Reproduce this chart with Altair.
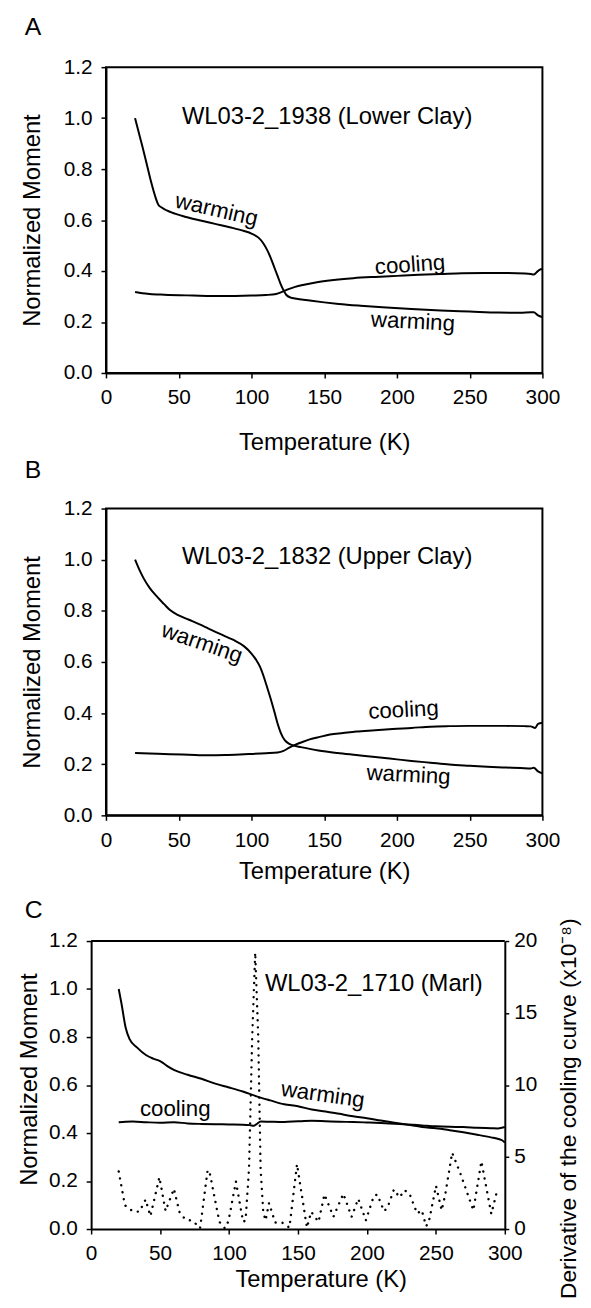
import altair as alt
import pandas as pd

FONT = "Liberation Sans"

# ---------------- data ----------------
X_TICKS = [0, 50, 100, 150, 200, 250, 300]
Y_TICKS = [0.0, 0.2, 0.4, 0.6, 0.8, 1.0, 1.2]
D_TICKS = [0, 5, 10, 15, 20]

# Panel A  (WL03-2_1938, Lower Clay)
A_warm_T = [20, 22, 25, 28, 31, 34, 36, 38, 45, 55, 65, 75, 85, 95, 100, 105, 108, 111, 113, 116,
            118, 120, 122, 124, 127, 130, 140, 150, 160, 175, 190, 210, 230, 250, 270, 285, 292, 294, 297, 300]
A_warm_M = [1.0, 0.955, 0.89, 0.82, 0.75, 0.69, 0.66, 0.65, 0.63, 0.612, 0.598, 0.585, 0.572, 0.557, 0.547, 0.53, 0.51, 0.48, 0.455, 0.41,
            0.38, 0.35, 0.325, 0.306, 0.296, 0.292, 0.284, 0.277, 0.271, 0.264, 0.258, 0.251, 0.245, 0.241, 0.237, 0.236, 0.238, 0.238, 0.226, 0.219]
A_cool_T = [20, 25, 30, 40, 60, 80, 100, 110, 117, 121, 125, 130, 137, 145, 155, 170, 185, 200, 215, 230,
            245, 260, 275, 288, 292, 294, 296, 298, 300]
A_cool_M = [0.318, 0.313, 0.31, 0.307, 0.304, 0.302, 0.304, 0.306, 0.31, 0.318, 0.328, 0.338, 0.347, 0.356, 0.364, 0.372, 0.377, 0.381, 0.385, 0.388,
            0.391, 0.392, 0.392, 0.39, 0.388, 0.386, 0.395, 0.405, 0.408]

# Panel B  (WL03-2_1832, Upper Clay)
B_warm_T = [20, 23, 26, 30, 34, 40, 44, 50, 57, 64, 70, 76, 82, 88, 95, 100, 103, 106, 108, 110,
            113, 116, 118, 120, 123, 126, 129, 134, 146, 159, 172, 185, 200, 210, 223, 236, 250, 262, 275, 285,
            292, 294, 297, 300]
B_warm_M = [1.0, 0.96, 0.926, 0.89, 0.862, 0.826, 0.803, 0.782, 0.765, 0.748, 0.732, 0.716, 0.70, 0.685, 0.661, 0.633, 0.61, 0.58, 0.55, 0.515,
            0.46, 0.40, 0.358, 0.325, 0.293, 0.28, 0.273, 0.267, 0.254, 0.244, 0.236, 0.228, 0.219, 0.213, 0.206, 0.199, 0.194, 0.19, 0.187, 0.185,
            0.183, 0.186, 0.172, 0.164]
B_cool_T = [20, 30, 44, 57, 70, 82, 95, 110, 118, 122, 126, 130, 135, 140, 147, 154, 163, 172, 185, 197,
            210, 223, 236, 249, 262, 275, 288, 292, 295, 297, 300]
B_cool_M = [0.244, 0.242, 0.239, 0.237, 0.235, 0.236, 0.239, 0.243, 0.246, 0.252, 0.265, 0.276, 0.287, 0.297, 0.307, 0.316, 0.322, 0.328, 0.333, 0.338,
            0.342, 0.347, 0.349, 0.35, 0.35, 0.35, 0.349, 0.348, 0.342, 0.358, 0.362]

# Panel C  (WL03-2_1710, Marl)
C_warm_T = [20, 22, 25, 28, 33, 40, 45, 50, 55, 60, 70, 80, 90, 100, 110, 120, 130, 140, 150, 160,
            170, 180, 190, 200, 210, 220, 230, 240, 250, 260, 270, 280, 290, 296, 298, 300]
C_warm_M = [1.0, 0.94, 0.84, 0.79, 0.758, 0.724, 0.71, 0.70, 0.68, 0.663, 0.643, 0.626, 0.606, 0.59, 0.573, 0.553, 0.536, 0.52, 0.512, 0.498,
            0.49, 0.48, 0.47, 0.462, 0.452, 0.443, 0.434, 0.425, 0.42, 0.412, 0.403, 0.393, 0.382, 0.374, 0.37, 0.36]
C_cool_T = [20, 25, 30, 40, 50, 60, 70, 80, 90, 100, 110, 115, 118, 120, 123, 130, 140, 150, 160, 170,
            180, 190, 200, 210, 220, 230, 240, 250, 260, 270, 280, 290, 295, 300]
C_cool_M = [0.445, 0.447, 0.448, 0.445, 0.443, 0.445, 0.44, 0.438, 0.437, 0.436, 0.435, 0.433, 0.43, 0.437, 0.448, 0.447, 0.446, 0.449, 0.451, 0.449,
            0.447, 0.446, 0.444, 0.442, 0.439, 0.436, 0.432, 0.428, 0.426, 0.425, 0.422, 0.42, 0.419, 0.425]
C_deriv_T = [20, 24.5, 30, 35, 39.5, 43, 49.5, 54, 60, 64, 68, 74, 79, 84.5, 86, 93, 97, 99.6, 105, 110.2,
             112, 114.5, 116.8, 119, 121.2, 122.9, 124.8, 126.5, 129, 133.5, 138.5, 143.8, 149.3, 156.5, 159.6, 164.9, 169.2, 175.7, 182.9, 188.9,
             193.7, 199.2, 205, 207.6, 212.4, 215, 219.6, 223.7, 227.3, 230.9, 236.4, 239.8, 242.9, 244.8, 250.1, 254.2, 256.8, 261.8, 267.6, 277.2,
             283, 290.2, 294.5]
C_deriv_D = [4.0, 1.65, 1.25, 1.2, 2.05, 0.9, 3.6, 1.25, 2.8, 1.2, 0.7, 0.55, 0.05, 4.1, 3.9, 0.5, 0.05, 0.55, 3.3, 0.5,
             0.6, 4.2, 13.3, 19.2, 13.3, 4.2, 1.2, 0.6, 1.8, 0.45, 0.45, 0.1, 4.5, 0.1, 1.2, 0.5, 2.4, 0.85, 2.45, 0.85,
             2.1, 0.6, 2.3, 2.4, 1.24, 1.5, 2.75, 2.2, 2.7, 2.45, 1.08, 1.31, 0.2, 0.45, 3.0, 1.3, 2.4, 5.3, 3.9, 1.3,
             4.7, 1.05, 2.7]

# annotations: text, T, M, angle, font size
A_ann_text = ["WL03-2_1938 (Lower Clay)", "warming", "cooling", "warming"]
A_ann_T = [152, 76, 209, 211]
A_ann_M = [1.005, 0.64, 0.424, 0.201]
A_ann_angle = [0, 13, 356, 3]
A_ann_size = [24, 22.5, 22.5, 22.5]

B_ann_text = ["WL03-2_1832 (Upper Clay)", "warming", "cooling", "warming"]
B_ann_T = [152, 66, 204.5, 208]
B_ann_M = [1.01, 0.674, 0.412, 0.158]
B_ann_angle = [0, 19, 357, 3]
B_ann_size = [24, 22.5, 22.5, 22.5]

C_ann_text = ["WL03-2_1710 (Marl)", "cooling", "warming"]
C_ann_T = [205, 61, 168]
C_ann_M = [1.02, 0.50, 0.56]
C_ann_angle = [0, 0, 8]
C_ann_size = [24, 22.5, 22.5]


# ---------------- helpers ----------------
def curves_df(wT, wM, cT, cM):
    return pd.concat([
        pd.DataFrame({"T": wT, "M": wM, "run": "warming"}),
        pd.DataFrame({"T": cT, "M": cM, "run": "cooling"}),
    ], ignore_index=True)


def ann_df(texts, Ts, Ms, angles, sizes):
    return pd.DataFrame({"T": Ts, "M": Ms, "label": texts, "angle": angles, "size": sizes})


def x_axis(title_y, title_x=None):
    kw = dict(values=X_TICKS, format="d", title="Temperature (K)", titleY=title_y,
              titleBaseline="alphabetic", titleAlign="center", labelPadding=9)
    if title_x is not None:
        kw["titleX"] = title_x
    return alt.Axis(**kw)


def y_axis(title_x, title_y, offset=0):
    kw = dict(values=Y_TICKS, format=".1f", title="Normalized Moment", titleX=title_x, titleY=title_y,
              titleAngle=270, titleBaseline="alphabetic", titleAlign="center", labelPadding=9)
    if offset:
        kw["offset"] = offset
    return alt.Axis(**kw)


def panel(letter, curves, ann, xscale, yscale, xaxis, yaxis, label_x, label_y):
    X = alt.X("T:Q", scale=xscale, axis=xaxis)
    Y = alt.Y("M:Q", scale=yscale, axis=yaxis)
    lines = alt.Chart(curves).mark_line(color="black", strokeWidth=2, interpolate="monotone").encode(
        x=X, y=Y, detail="run:N",
    )
    texts = alt.Chart(ann).mark_text(font=FONT, color="black", align="center", baseline="middle").encode(
        x=X, y=Y,
        text="label:N",
        angle=alt.Angle("angle:Q", scale=None),
        size=alt.Size("size:Q", scale=None),
    )
    lab = alt.Chart(pd.DataFrame({"lab": [letter]})).mark_text(
        font=FONT, fontSize=25, color="black", align="left", baseline="alphabetic"
    ).encode(text="lab:N", x=alt.value(label_x), y=alt.value(label_y), size=alt.value(25))
    return lines, texts, lab, X, Y


FRAME = alt.ViewBackground(stroke="black", strokeWidth=2)

# ---------------- panel A ----------------
xsA = alt.Scale(domain=[0, 300], nice=False)
ysA = alt.Scale(domain=[0, 1.2], nice=False)
lA, tA, labA, _, _ = panel("A", curves_df(A_warm_T, A_warm_M, A_cool_T, A_cool_M),
                           ann_df(A_ann_text, A_ann_T, A_ann_M, A_ann_angle, A_ann_size),
                           xsA, ysA, x_axis(77), y_axis(-67, 154.5), -82, -32)
chartA = alt.layer(lA, tA, labA).properties(width=441, height=309, view=FRAME)

# ---------------- panel B ----------------
xsB = alt.Scale(domain=[0, 300], nice=False)
ysB = alt.Scale(domain=[0, 1.2], nice=False)
lB, tB, labB, _, _ = panel("B", curves_df(B_warm_T, B_warm_M, B_cool_T, B_cool_M),
                           ann_df(B_ann_text, B_ann_T, B_ann_M, B_ann_angle, B_ann_size),
                           xsB, ysB, x_axis(64), y_axis(-67, 155), -82, -31)
chartB = alt.layer(lB, tB, labB).properties(width=441, height=310, view=FRAME)

# ---------------- panel C ----------------
xsC = alt.Scale(domain=[0, 300], nice=False, range=[-15, 403])
ysC = alt.Scale(domain=[0, 1.2], nice=False, range=[281, -10])
dsC = alt.Scale(domain=[0, 20], nice=False, range=[281, -10])
lC, tC, labC, XC, YC = panel("C", curves_df(C_warm_T, C_warm_M, C_cool_T, C_cool_M),
                             ann_df(C_ann_text, C_ann_T, C_ann_M, C_ann_angle, C_ann_size),
                             xsC, ysC, x_axis(58, 217), y_axis(-55, 129.5, offset=15), -82, -33)
top_rule = alt.Chart(pd.DataFrame({"T": [0], "T2": [300], "M": [1.2]})).mark_rule(
    color="black", strokeWidth=2
).encode(x=XC, x2="T2:Q", y=YC)
left_C = alt.layer(lC, tC, top_rule, labC)
deriv = alt.Chart(pd.DataFrame({"T": C_deriv_T, "D": C_deriv_D})).mark_line(
    color="black", strokeWidth=2.4, strokeDash=[0.1, 7], strokeCap="round"
).encode(
    x=XC,
    y=alt.Y("D:Q", scale=dsC, axis=alt.Axis(
        orient="right", values=D_TICKS, format="d",
        title="Derivative of the cooling curve (x10\u207b\u2078)",
        titleAngle=270, titleX=71, titleY=159, titleBaseline="alphabetic", titleAlign="center",
        titleFontSize=23, labelPadding=5, tickSize=4)),
)
chartC = alt.layer(left_C, deriv).resolve_scale(y="independent").properties(
    width=403, height=281, view=alt.ViewBackground(stroke="transparent")
)

chart = alt.vconcat(chartA, chartB, chartC, spacing=137, bounds="flush").properties(
    padding={"left": 9, "top": 0, "right": 2, "bottom": 2}
).configure(font=FONT).configure_view(stroke="transparent").configure_axis(
    domainColor="black", domainWidth=2, tickColor="black", tickWidth=1.5, tickSize=5,
    labelColor="black", titleColor="black", grid=False, labelFont=FONT, titleFont=FONT,
    labelFontSize=21, titleFontSize=24, titleFontWeight="normal", labelFlush=False,
    labelOverlap=False
)

chart.save("out.html", embed_options={"renderer": "svg", "actions": False})
